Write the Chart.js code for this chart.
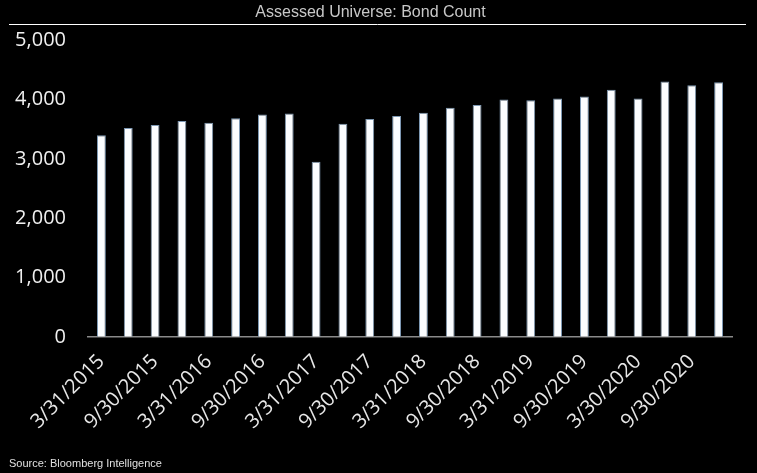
<!DOCTYPE html>
<html>
<head>
<meta charset="utf-8">
<script src="https://cdn.jsdelivr.net/npm/chart.js@4"></script>
<style>
  html, body { margin: 0; padding: 0; background: #000; }
  #wrap { width: 757px; height: 473px; }
</style>
</head>
<body>
<div id="wrap"><canvas id="bondChart"></canvas></div>
<script>
const quarters = [
  '3/31/2015', '6/30/2015', '9/30/2015', '12/31/2015',
  '3/31/2016', '6/30/2016', '9/30/2016', '12/31/2016',
  '3/31/2017', '6/30/2017', '9/30/2017', '12/31/2017',
  '3/31/2018', '6/30/2018', '9/30/2018', '12/31/2018',
  '3/31/2019', '6/30/2019', '9/30/2019', '12/31/2019',
  '3/30/2020', '6/30/2020', '9/30/2020', '12/31/2020'
];
const bondCount = [
  3400, 3525, 3575, 3640, 3610, 3690, 3750, 3770,
  2955, 3595, 3675, 3725, 3780, 3865, 3910, 4005,
  3990, 4020, 4055, 4170, 4020, 4310, 4245, 4295
];
const yTicks = [0, 1000, 2000, 3000, 4000, 5000];

// black background + white rule under the title
const titleRule = {
  id: 'titleRule',
  beforeDraw(chart) {
    const ctx = chart.ctx;
    ctx.save();
    ctx.fillStyle = '#000';
    ctx.fillRect(0, 0, chart.width, chart.height);
    ctx.strokeStyle = '#ffffff';
    ctx.lineWidth = 1;
    ctx.beginPath();
    ctx.moveTo(9, 24.5);
    ctx.lineTo(746, 24.5);
    ctx.stroke();
    ctx.restore();
  }
};

new Chart(document.getElementById('bondChart'), {
  type: 'bar',
  data: {
    labels: quarters,
    datasets: [{
      label: 'Bond Count',
      data: bondCount,
      backgroundColor: '#fbfdff',
      borderColor: '#7d98b3',
      borderWidth: 1,
      barPercentage: 0.33,
      categoryPercentage: 1
    }]
  },
  options: {
    responsive: true,
    maintainAspectRatio: false,
    animation: false,
    layout: { padding: { left: 9, right: 25, top: 0, bottom: 2 } },
    plugins: {
      legend: { display: false },
      tooltip: { enabled: false },
      title: {
        display: true,
        text: 'Assessed Universe: Bond Count',
        color: '#c8c8c8',
        font: { family: 'Liberation Sans', size: 16, weight: 'normal' },
        padding: { top: 3, bottom: 18.3 }
      },
      subtitle: {
        display: true,
        position: 'bottom',
        align: 'start',
        text: 'Source: Bloomberg Intelligence',
        color: '#e0e0e0',
        font: { family: 'Liberation Sans', size: 11 },
        padding: { top: 4, bottom: 0 }
      }
    },
    scales: {
      x: {
        grid: { display: false, drawTicks: false },
        border: { display: true, color: '#8a8a8a', width: 1.5 },
        afterFit: s => { s.paddingLeft = 0; s.paddingRight = 0; s.height = 117; },
        ticks: {
          color: '#e8e8e8',
          font: { family: 'Open Sans', size: 20 },
          autoSkip: false,
          maxRotation: 45,
          minRotation: 45,
          padding: 13,
          callback: (v, i) => (i % 2 === 0 ? quarters[i] : '')
        }
      },
      y: {
        min: 0,
        max: 5000,
        afterBuildTicks: axis => { axis.ticks = yTicks.map(v => ({ value: v })); },
        afterFit: s => { s.paddingTop = 0; s.paddingBottom = 0; s.width = 79; },
        grid: { display: false, drawTicks: false },
        border: { display: false },
        ticks: {
          color: '#f0f0f0',
          font: { family: 'Open Sans', size: 20 },
          padding: 22,
          callback: v => v.toLocaleString('en-US')
        }
      }
    }
  },
  plugins: [titleRule]
});
</script>
</body>
</html>
